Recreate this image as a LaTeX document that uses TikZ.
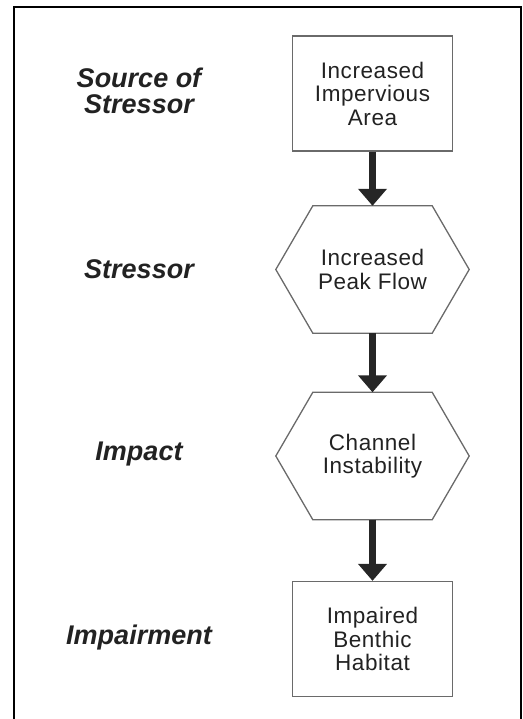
\documentclass[tikz,border=0pt]{standalone}
\usepackage{fontspec}
\setmainfont{Liberation Sans}
\newfontfamily\boxfont[LetterSpace=2.5]{Liberation Sans}
\usetikzlibrary{arrows.meta}

\definecolor{boxgray}{HTML}{6A6A6A}
\definecolor{textgray}{HTML}{222222}
\definecolor{arrowgray}{HTML}{262626}

\begin{document}
\begin{tikzpicture}[
                x=1pt, y=-1pt,
                box/.style={rectangle, draw=boxgray, line width=1.3pt, minimum width=160pt, minimum height=115pt, inner sep=0pt, align=center, text=textgray, font=\boxfont\fontsize{22.5}{23.5}\selectfont},
                hexbox/.style={rectangle, minimum width=193pt, minimum height=127pt, inner sep=0pt, align=center, text=textgray, font=\boxfont\fontsize{22.5}{23.5}\selectfont},
                hexline/.style={draw=boxgray, line width=1.3pt},
                stage/.style={align=center, text=textgray, font=\bfseries\itshape\fontsize{27}{26}\selectfont},
                arrow/.style={-{Triangle[width=28pt, length=17pt]}, line width=6.5pt, draw=arrowgray}
            ]
                \useasboundingbox (0,0) rectangle (522,719);
                \draw[line width=2pt] (14,719) |- (521,7) -- (521,719);

                % stage names
                \node[stage] (source) at (139,91) {Source of\\Stressor};
                \node[stage] (stressor) at (139,269) {Stressor};
                \node[stage] (impact) at (139,454) {Impact};
                \node[stage] (impairment) at (139,638) {Impairment};

                % chain
                \node[box] (imperv) at (372.5,93.5) {Increased\\Impervious\\Area};
                \node[hexbox] (flow) at (372.5,269.5) {Increased\\Peak Flow};
                \node[hexbox] (instab) at (372.5,456) {Channel\\Instability};
                \node[box] (habitat) at (372.5,639) {Impaired\\Benthic\\Habitat};

                \foreach \n in {flow, instab}
                    \draw[hexline] (\n.west) -- ([xshift=37pt]\n.north west) -- ([xshift=-37pt]\n.north east)
                        -- (\n.east) -- ([xshift=-37pt]\n.south east) -- ([xshift=37pt]\n.south west) -- cycle;

                \draw[arrow] (imperv) -- (flow);
                \draw[arrow] (flow) -- (instab);
                \draw[arrow] (instab) -- (habitat);
            \end{tikzpicture}
\end{document}
